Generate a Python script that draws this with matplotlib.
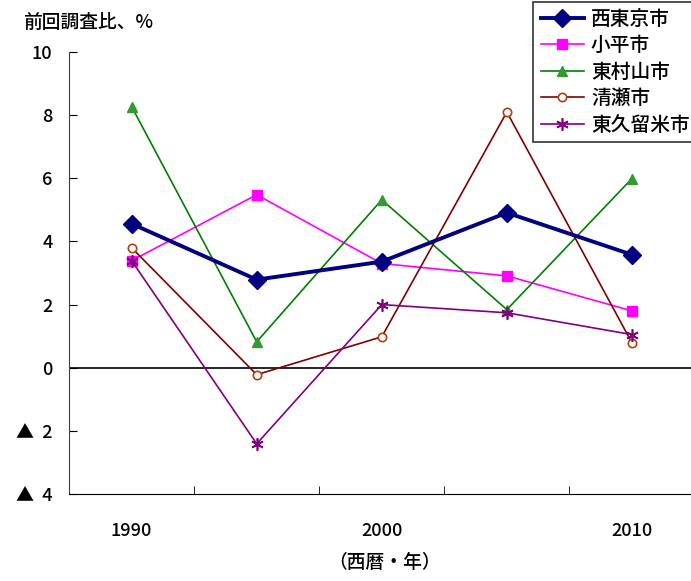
import numpy as np
import matplotlib.pyplot as plt

plt.rcParams['font.family'] = ['Noto Sans CJK JP', 'DejaVu Sans']

years = ['1990', '1995', '2000', '2005', '2010']
nishitokyo = [4.56, 2.79, 3.36, 4.91, 3.58]
kodaira = [3.39, 5.48, 3.30, 2.91, 1.80]
higashimurayama = [8.27, 0.82, 5.32, 1.84, 5.99]
kiyose = [3.80, -0.22, 0.98, 8.10, 0.79]
higashikurume = [3.39, -2.41, 2.00, 1.74, 1.05]

yticks = [10, 8, 6, 4, 2, 0, -2, -4]
ytick_labels = ['10', '8', '6', '4', '2', '0', '▲  2', '▲  4']

fig = plt.figure(figsize=(6.91, 5.81), dpi=100)
ax = fig.add_axes([0.1, 0.1497, 0.905, 0.7608])

x = np.arange(len(years))
ax.axhline(0, color='black', lw=1.2, zorder=1)

ax.plot(x, nishitokyo, color='#000080', lw=2.8, marker='D', ms=9,
        label='西東京市', zorder=5)
ax.plot(x, kodaira, color='#FF00FF', lw=1.2, marker='s', ms=7,
        label='小平市', zorder=4)
ax.plot(x, higashimurayama, color='#008000', lw=1.2, marker='^', ms=7,
        mfc='#339933', mec='#339933', label='東村山市', zorder=4)
ax.plot(x, kiyose, color='#800000', lw=1.2, marker='o', ms=6,
        mfc='white', mec='#B04010', mew=1.2, label='清瀬市', zorder=4)
ax.plot(x, higashikurume, color='#800080', lw=1.2, marker=(6, 2, 0), ms=9,
        mew=1.2, label='東久留米市', zorder=4)

ax.set_xlim(-0.5, 4.5)
ax.set_ylim(-4, 10)
ax.set_xticks([0, 2, 4])
ax.set_xticklabels(['1990', '2000', '2010'])
ax.set_xticks(np.arange(-0.5, 5, 1), minor=True)
ax.tick_params(axis='x', which='major', length=0, pad=20, labelsize=13)
ax.tick_params(axis='x', which='minor', direction='in', length=6)
ax.set_yticks(yticks)
ax.set_yticklabels(ytick_labels)
ax.tick_params(axis='y', direction='in', length=6, pad=12, labelsize=13)
for lab in ax.get_xticklabels() + ax.get_yticklabels():
    lab.set_fontweight('medium')

ax.spines['top'].set_visible(False)
ax.spines['right'].set_visible(False)
ax.spines['left'].set_color('#404040')

fig.text(0.034, 0.962, '前回調査比、%', fontsize=13.5, fontweight='medium',
         ha='left', va='center')
fig.text(0.557, 0.031, '（西暦・年）', fontsize=13.5, fontweight='medium',
         ha='center', va='center')

leg = fig.legend(loc='upper left', bbox_to_anchor=(0.771, 0.997),
                 prop={'size': 14.2, 'weight': 'medium'},
                 frameon=True, fancybox=False, edgecolor='black',
                 handlelength=2.2, borderpad=0.4, labelspacing=0.38,
                 handletextpad=0.35, borderaxespad=0)
leg.get_frame().set_linewidth(1.2)

fig.savefig('out.png', dpi=100)
